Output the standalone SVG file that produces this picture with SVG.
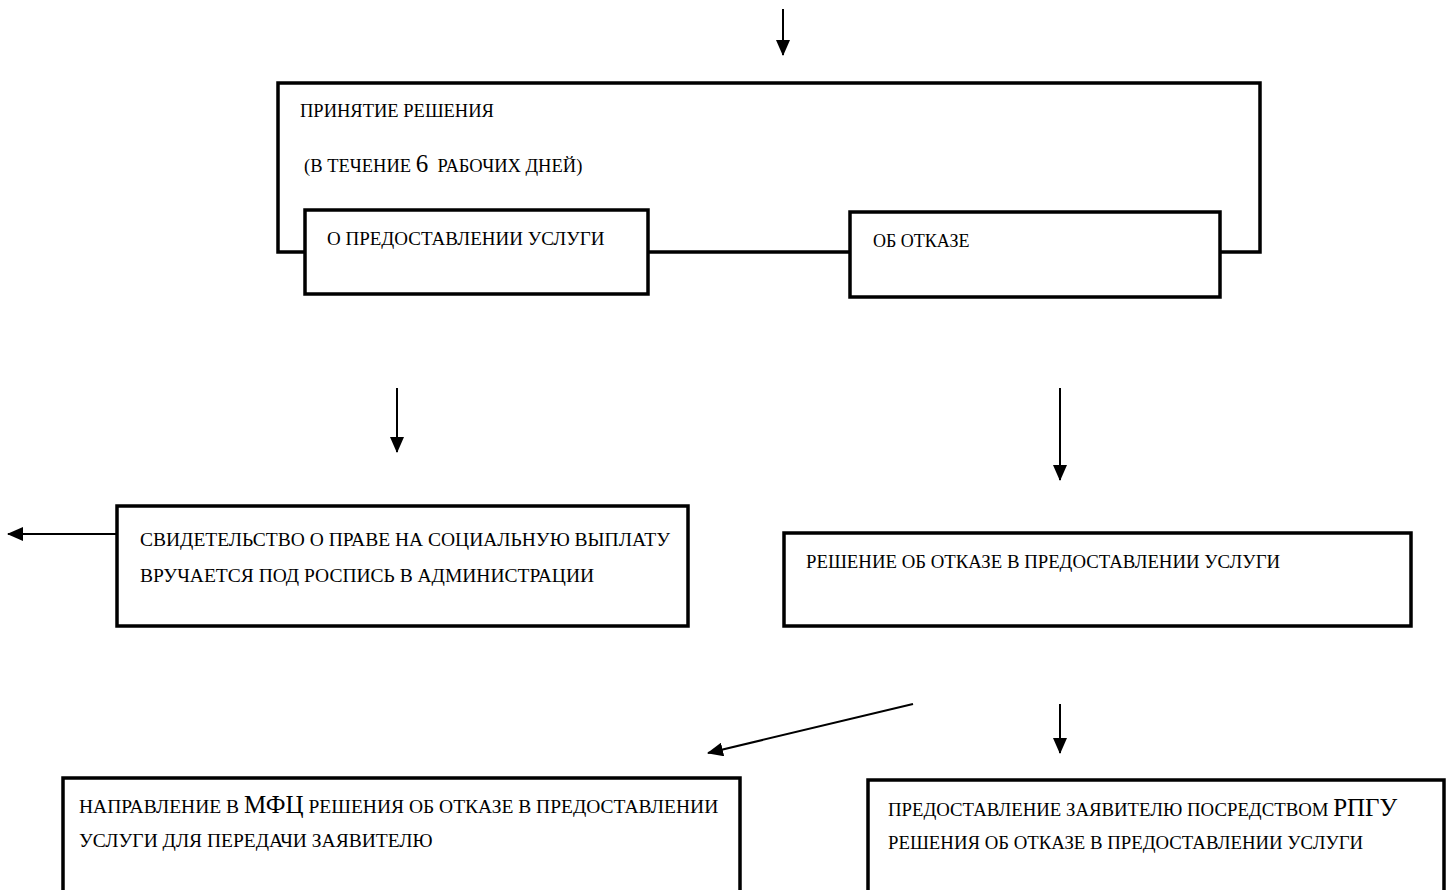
<svg xmlns="http://www.w3.org/2000/svg" width="1451" height="890" viewBox="0 0 1451 890">
<style>
.box{fill:#fff;stroke:#000;stroke-width:3.5}
.frame{fill:none;stroke:#000;stroke-width:3.5}
.conn{fill:none;stroke:#000;stroke-width:2}
text{font-family:"Liberation Serif","Times New Roman",serif;font-size:18px;fill:#000;white-space:pre}
.s185{font-size:18.5px}
.s19{font-size:19px}
.s188{font-size:18.8px}
.s195{font-size:19.5px}
.big{font-size:25px}
</style>
<defs>
<marker id="ah" markerUnits="userSpaceOnUse" markerWidth="16" markerHeight="14" refX="15" refY="7" orient="auto">
<path d="M0,0 L16,7 L0,14 Z" fill="#000"/>
</marker>
</defs>
<g id="connectors">
<line class="conn" x1="783" y1="9" x2="783" y2="55" marker-end="url(#ah)"/>
<line class="conn" x1="397" y1="388" x2="397" y2="452" marker-end="url(#ah)"/>
<line class="conn" x1="1060" y1="388" x2="1060" y2="480" marker-end="url(#ah)"/>
<line class="conn" x1="117" y1="534" x2="8" y2="534" marker-end="url(#ah)"/>
<line class="conn" x1="913" y1="704" x2="708" y2="753" marker-end="url(#ah)"/>
<line class="conn" x1="1060" y1="704" x2="1060" y2="753" marker-end="url(#ah)"/>
<line class="frame" x1="648" y1="252" x2="850" y2="252"/>
</g>
<g id="decision">
<path class="frame" d="M305,252 H278 V83 H1260 V252 H1220"/>
<text class="s185" x="300" y="117">ПРИНЯТИЕ РЕШЕНИЯ</text>
<text class="s185" x="304" y="172">(В ТЕЧЕНИЕ <tspan class="big">6</tspan>  РАБОЧИХ ДНЕЙ)</text>
</g>
<g id="grant">
<rect class="box" x="305" y="210" width="343" height="84"/>
<text class="s19" x="327" y="245">О ПРЕДОСТАВЛЕНИИ УСЛУГИ</text>
</g>
<g id="refuse">
<rect class="box" x="850" y="212" width="370" height="85"/>
<text x="873" y="247">ОБ ОТКАЗЕ</text>
</g>
<g id="certificate">
<rect class="box" x="117" y="506" width="571" height="120"/>
<text class="s195" x="140" y="546">СВИДЕТЕЛЬСТВО О ПРАВЕ НА СОЦИАЛЬНУЮ ВЫПЛАТУ</text>
<text class="s195" x="140" y="582">ВРУЧАЕТСЯ ПОД РОСПИСЬ В АДМИНИСТРАЦИИ</text>
</g>
<g id="refusal-decision">
<rect class="box" x="784" y="533" width="627" height="93"/>
<text class="s188" x="806" y="568">РЕШЕНИЕ ОБ ОТКАЗЕ В ПРЕДОСТАВЛЕНИИ УСЛУГИ</text>
</g>
<g id="mfc">
<rect class="box" x="63" y="778" width="677" height="130"/>
<text class="s195" x="79" y="813">НАПРАВЛЕНИЕ В <tspan class="big">МФЦ</tspan> РЕШЕНИЯ ОБ ОТКАЗЕ В ПРЕДОСТАВЛЕНИИ</text>
<text class="s195" x="79" y="847">УСЛУГИ ДЛЯ ПЕРЕДАЧИ ЗАЯВИТЕЛЮ</text>
</g>
<g id="rpgu">
<rect class="box" x="868" y="780" width="576" height="130"/>
<text class="s188" x="888" y="816">ПРЕДОСТАВЛЕНИЕ ЗАЯВИТЕЛЮ ПОСРЕДСТВОМ <tspan class="big">РПГУ</tspan></text>
<text class="s188" x="888" y="849">РЕШЕНИЯ ОБ ОТКАЗЕ В ПРЕДОСТАВЛЕНИИ УСЛУГИ</text>
</g>
</svg>
